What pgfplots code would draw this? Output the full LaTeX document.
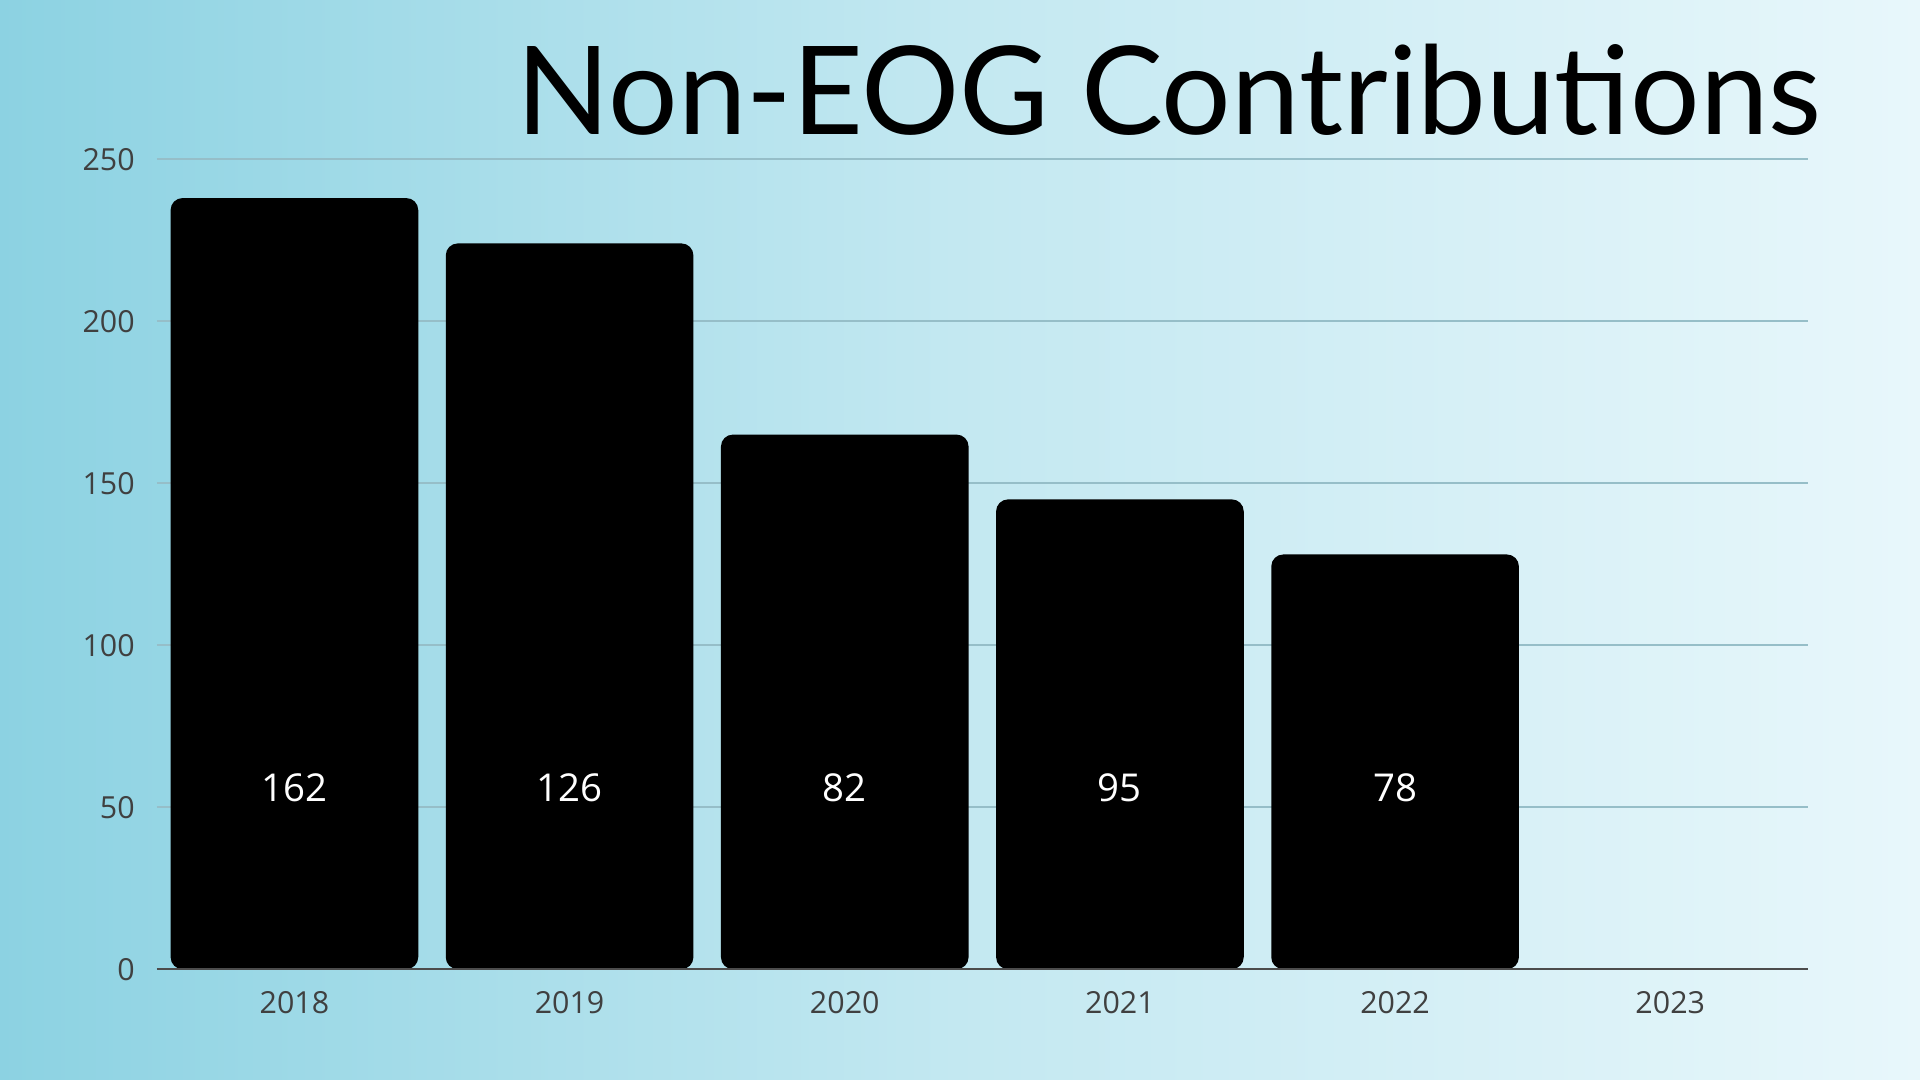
\documentclass[border=0pt]{standalone}
\usepackage{pgfplots}
\pgfplotsset{compat=1.18}
\usepackage{fontspec}
\setmainfont{Open Sans}
\newfontfamily\titlefont{Lato}
\definecolor{bgL}{RGB}{140,210,226}
\definecolor{bgR}{RGB}{232,247,251}
\definecolor{gridc}{RGB}{150,190,200}
\begin{document}
\begin{tikzpicture}[x=1pt,y=1pt]
\shade[left color=bgL,right color=bgR,middle color=bgR!60!bgL] (0,0) rectangle (480,270);
\node[anchor=base east,inner sep=0,font=\titlefont\fontsize{30.7}{31}\selectfont] at (455.5,236.3) {Non-EOG Contributions};
\begin{axis}[at={(57,34.2)},anchor=south west,scale only axis,width=412.75pt,height=202.5pt,
  xmin=-0.5,xmax=5.5,ymin=0,ymax=250,
  axis line style={draw=none},
  ytick={0,50,...,250},ymajorgrids,grid style={gridc,line width=0.4pt},
  xtick={0,...,5},xticklabels={2018,2019,2020,2021,2022,2023},
  tick style={draw=none},
  ticklabel style={font=\fontsize{7.6}{8}\selectfont,text=black!75},
  /pgf/number format/assume math mode=true,
  yticklabel style={xshift=-2pt},
  xticklabel style={yshift=-2pt},
  clip=false]
\addplot[ybar,bar width=0.9,fill=black,draw=none,rounded corners=3pt] coordinates {(0,238) (1,224) (2,165) (3,145) (4,128)};
\draw[black!70,line width=0.5pt] (axis cs:-0.5,0) -- (axis cs:5.5,0);
\addplot[only marks,mark=none,point meta=explicit symbolic,nodes near coords={\pgfplotspointmeta},
  nodes near coords align={center},every node near coord/.style={text=white,font=\fontsize{9.6}{10}\selectfont}]
  table[meta=l] {x y l
0 56 162
1 56 126
2 56 82
3 56 95
4 56 78
};
\end{axis}
\end{tikzpicture}
\end{document}
